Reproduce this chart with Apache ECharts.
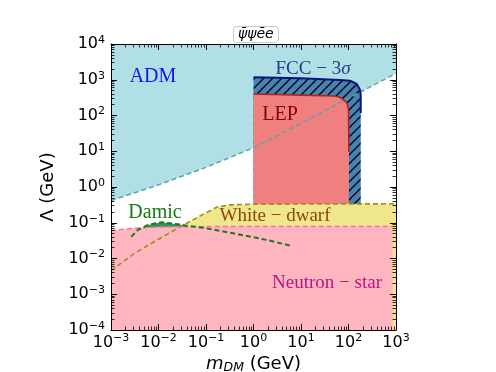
<!DOCTYPE html>
<html>
<head>
<meta charset="utf-8">
<script src="https://cdn.jsdelivr.net/npm/echarts@6/dist/echarts.min.js"></script>
<style>
html, body { margin: 0; padding: 0; background: #fff; }
#chart { width: 496px; height: 372px; }
</style>
</head>
<body>
<div id="chart"></div>
<script>
// tick labels (decades)
const xMajors = [1e-3, 1e-2, 1e-1, 1, 10, 100, 1000];
const yMajors = [1e-4, 1e-3, 1e-2, 1e-1, 1, 10, 100, 1000, 1e4];

// ADM bound (shaded above)
const admX = [1e-3, 1e-2, 1e-1, 1, 10, 100, 1000];
const admY = [0.417, 1.15, 3.55, 12.6, 60, 302, 1514];

// FCC 3 sigma outline
const fccX = [1, 10, 66, 108, 149, 175, 181, 181];
const fccY = [1175, 1096, 977, 940, 760, 516, 374, 117];

// LEP outline
const lepX = [1, 10, 50, 66, 84, 94, 100, 101, 102];
const lepY = [398, 372, 350, 324, 257, 218, 141, 40, 9.5];
const boxFloor = 0.3; // collider regions run down to the white-dwarf band

// white dwarf bound
const wdX = [1e-3, 3.16e-3, 1e-2, 3.16e-2, 0.1, 0.178, 0.316, 1, 1000];
const wdY = [0.0046, 0.0141, 0.0347, 0.083, 0.19, 0.282, 0.316, 0.331, 0.339];

// neutron star bound
const nsX = [1e-3, 3e-3, 1e-2, 0.1, 850];
const nsY = [0.061, 0.07, 0.076, 0.078, 0.078];

// Damic
const damicX = [0.00267, 0.0037, 0.006, 0.0115, 0.0258, 0.0385, 0.0877, 0.376, 1.9, 6.4];
const damicY = [0.0407, 0.063, 0.0865, 0.103, 0.0906, 0.083, 0.0724, 0.0507, 0.0331, 0.0224];

const FONT = 'DejaVu Sans';
const SERIF = 'Liberation Serif';

const pts = (xs, ys) => xs.map((x, i) => [x, ys[i]]);

const minors = (lo, hi) => {
  const out = [];
  for (let e = lo; e < hi; e++) {
    for (let k = 2; k <= 9; k++) out.push(k * Math.pow(10, e));
  }
  return out;
};

const powLabel = v => {
  const e = Math.round(Math.log10(v));
  return '{b|10}{s|' + (e < 0 ? '\u2212' + (-e) : e) + '}';
};
const supRich = {
  b: {fontSize: 16, fontFamily: FONT, color: '#000'},
  s: {fontSize: 11, fontFamily: FONT, color: '#000', padding: [0, 0, 8, 0]}
};

// hatch pattern for FCC (steelblue with black //)
const hatch = (() => {
  const n = 9;
  const c = document.createElement('canvas');
  c.width = c.height = n;
  const g = c.getContext('2d');
  g.fillStyle = '#4682b4';
  g.fillRect(0, 0, n, n);
  g.strokeStyle = '#000';
  g.lineWidth = 1.3;
  g.beginPath();
  g.moveTo(-1, n + 1); g.lineTo(n + 1, -1);
  g.moveTo(-1, 1); g.lineTo(1, -1);
  g.moveTo(n - 1, n + 1); g.lineTo(n + 1, n - 1);
  g.stroke();
  return c;
})();

const axisBase = (min, max, pos) => ({
  type: 'log', logBase: 10, min, max, position: pos, z: 20,
  splitLine: {show: false},
  axisLine: {show: true, lineStyle: {color: '#000', width: 1}},
  axisLabel: {show: false},
  axisTick: {show: true, inside: true, length: 6, lineStyle: {color: '#000', width: 1}}
});

const majorAxis = (min, max, pos, ticks, labels) => {
  const a = axisBase(min, max, pos);
  a.axisTick.customValues = ticks;
  if (labels) {
    a.axisLabel = {show: true, customValues: ticks, formatter: powLabel, rich: supRich, margin: labels};
  }
  return a;
};
const minorAxis = (min, max, pos, lo, hi) => {
  const a = axisBase(min, max, pos);
  a.axisLine = {show: false};
  a.axisTick = {show: true, inside: true, length: 3.5, customValues: minors(lo, hi), lineStyle: {color: '#000', width: 0.8}};
  return a;
};

const xMain = majorAxis(1e-3, 1e3, 'bottom', xMajors, 3);
xMain.name = '{m|m}{s|DM}{n| (GeV)}';
xMain.nameLocation = 'middle';
xMain.nameGap = 20;
xMain.nameTextStyle = {
  rich: {
    m: {fontSize: 18, fontFamily: FONT, fontStyle: 'italic', color: '#000'},
    s: {fontSize: 12.5, fontFamily: FONT, fontStyle: 'italic', color: '#000', padding: [7, 0, 0, 0]},
    n: {fontSize: 18, fontFamily: FONT, color: '#000'}
  }
};

const yMain = majorAxis(1e-4, 1e4, 'left', yMajors, 6);
yMain.name = '\u039B (GeV)';
yMain.nameLocation = 'middle';
yMain.nameGap = 46;
yMain.nameTextStyle = {fontSize: 18, fontFamily: FONT, color: '#000'};

const fill = (data, color, origin) => ({
  type: 'line', data, symbol: 'none', silent: true,
  lineStyle: {opacity: 0},
  areaStyle: {color, opacity: 1, origin}
});
const edge = (data, color, width, dashed) => ({
  type: 'line', data, symbol: 'none', silent: true,
  lineStyle: {color, width, type: dashed ? [5, 3] : 'solid', cap: 'butt'}
});

const fccPts = pts(fccX, fccY);
const lepPts = pts(lepX, lepY);
const damicPts = pts(damicX, damicY);

const label = (x, y, text, color, size, extra) => ({
  type: 'text', x, y, z: 100,
  style: Object.assign({text, fill: color, font: size + 'px "' + SERIF + '"', align: 'center', verticalAlign: 'middle'}, extra || {})
});

const chart = echarts.init(document.getElementById('chart'), null, {renderer: 'canvas'});
chart.setOption({
  animation: false,
  backgroundColor: '#fff',
  title: {
    text: '\u03C8\u0304\u03C8e\u0304e',
    left: 233, top: 26,
    padding: [1, 5, 2, 5],
    backgroundColor: '#fff',
    borderColor: '#c8c8c8', borderWidth: 1, borderRadius: 3,
    textStyle: {fontFamily: FONT, fontStyle: 'italic', fontWeight: 'normal', fontSize: 14, color: '#000'}
  },
  grid: {left: 111, right: 100, top: 44, bottom: 42, containLabel: false, outerBoundsMode: 'none'},
  xAxis: [
    xMain,
    majorAxis(1e-3, 1e3, 'top', xMajors, 0),
    minorAxis(1e-3, 1e3, 'bottom', -3, 3),
    minorAxis(1e-3, 1e3, 'top', -3, 3)
  ],
  yAxis: [
    yMain,
    majorAxis(1e-4, 1e4, 'right', yMajors, 0),
    minorAxis(1e-4, 1e4, 'left', -4, 4),
    minorAxis(1e-4, 1e4, 'right', -4, 4)
  ],
  series: [
    fill(pts(admX, admY), '#b0e0e6', 'end'),
    fill([[fccX[0], boxFloor]].concat(fccPts, [[fccX[fccX.length - 1], boxFloor]]), {image: hatch, repeat: 'repeat'}, 'start'),
    fill([[lepX[0], boxFloor]].concat(lepPts, [[lepX[lepX.length - 1], boxFloor]]), '#f08080', 'start'),
    fill(pts(wdX, wdY), '#f0e68c', 'start'),
    fill(damicPts.filter(p => p[0] >= 0.0037 && p[0] <= 0.0385), '#2e9a48', 'start'),
    fill(pts(nsX, nsY), '#ffb6c1', 'start'),
    edge(pts(admX, admY), '#5fa3aa', 1.5, true),
    edge(fccPts, '#0a1580', 2, false),
    edge(lepPts, '#b22222', 1.6, false),
    edge(pts(wdX, wdY), '#9c8f1e', 1.6, true),
    edge(pts(nsX, nsY), '#ff69b4', 1.5, true),
    edge(damicPts, '#1a7a1a', 2, true)
  ],
  graphic: [
    label(153, 77, 'ADM', '#1414f0', 20),
    {type: 'text', x: 313, y: 69, z: 100, style: {
      text: '{a|FCC \u2212 3}{b|\u03C3}', align: 'center', verticalAlign: 'middle',
      rich: {
        a: {fontSize: 19, fontFamily: SERIF, fill: '#22408c'},
        b: {fontSize: 19, fontFamily: SERIF, fontStyle: 'italic', fill: '#22408c'}
      }
    }},
    label(280, 115, 'LEP', '#8b0000', 20),
    label(155, 213, 'Damic', '#137a13', 20),
    label(275, 216, 'White \u2212 dwarf', '#8b4513', 19),
    label(327, 283, 'Neutron \u2212 star', '#b5177d', 19)
  ]
});
</script>
</body>
</html>
